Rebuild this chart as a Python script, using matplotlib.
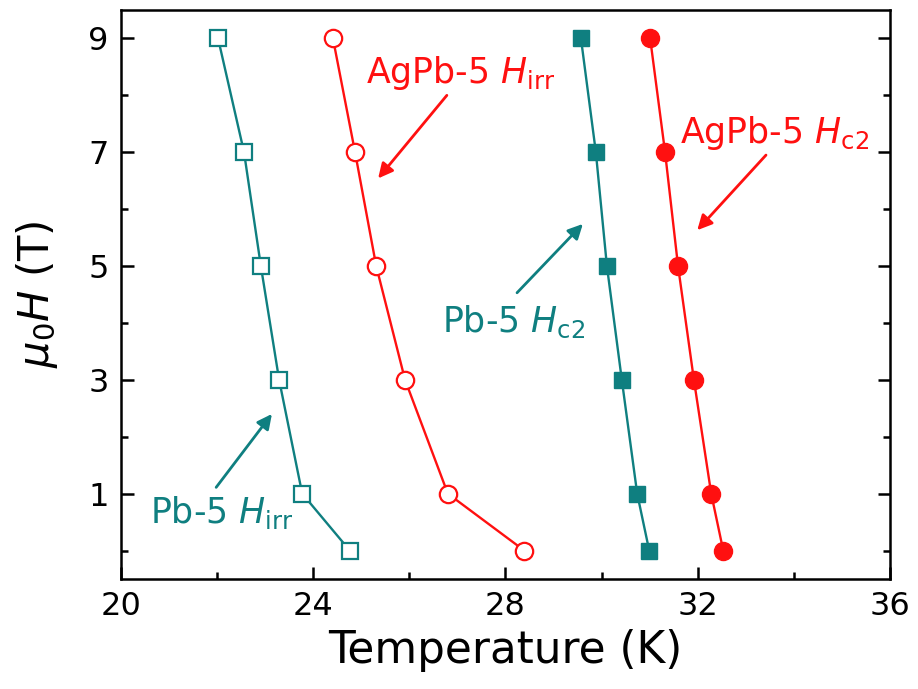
import matplotlib
matplotlib.use("Agg")
import matplotlib.pyplot as plt
from matplotlib.ticker import MultipleLocator

# Magnetic field values (T)
field = [9, 7, 5, 3, 1, 0]

# Characteristic temperatures (K)
pb5_irr = [22.02, 22.56, 22.91, 23.29, 23.77, 24.76]
agpb5_irr = [24.41, 24.87, 25.31, 25.91, 26.80, 28.39]
pb5_hc2 = [29.57, 29.88, 30.11, 30.42, 30.74, 30.99]
agpb5_hc2 = [31.01, 31.32, 31.59, 31.92, 32.28, 32.53]

x_ticks = [20, 24, 28, 32, 36]
y_ticks = [1, 3, 5, 7, 9]

teal = "#0f7f80"
red = "#ff1010"

plt.rcParams["font.family"] = ["DejaVu Sans"]
plt.rcParams["mathtext.fontset"] = "dejavusans"

fig = plt.figure(figsize=(9.18, 6.89), dpi=100)
ax = fig.add_axes([0.1318, 0.1597, 0.9695 - 0.1318, 0.9855 - 0.1597])

lw = 1.7
ax.plot(pb5_irr, field, "-s", color=teal, lw=lw, ms=11, mfc="white", mec=teal, mew=1.6, zorder=3)
ax.plot(agpb5_irr, field, "-o", color=red, lw=lw, ms=12.5, mfc="white", mec=red, mew=1.6, zorder=3)
ax.plot(pb5_hc2, field, "-s", color=teal, lw=lw, ms=11, mfc=teal, mec=teal, zorder=3)
ax.plot(agpb5_hc2, field, "-o", color=red, lw=lw, ms=13, mfc=red, mec=red, zorder=3)

ax.set_xlim(20, 36)
ax.set_ylim(-0.5, 9.5)
ax.set_xticks(x_ticks)
ax.set_yticks(y_ticks)
ax.xaxis.set_minor_locator(MultipleLocator(2))
ax.yaxis.set_minor_locator(MultipleLocator(1))

for s in ax.spines.values():
    s.set_linewidth(1.8)

ax.tick_params(axis="both", which="major", direction="in", length=9, width=1.8,
               labelsize=23, pad=9)
ax.tick_params(axis="both", which="minor", direction="in", length=5, width=1.8)
ax.tick_params(axis="y", which="both", right=True)

ax.set_xlabel("Temperature (K)", fontsize=31.5, labelpad=5)
ax.set_ylabel(r"$\mu_0H$ (T)", fontsize=30, labelpad=20)

# Series labels with pointer arrows
tkw = dict(fontsize=25, ha="center", va="baseline")
akw = dict(arrowstyle="-|>", lw=2.0, mutation_scale=22, shrinkA=0, shrinkB=0)

ax.text(27.07, 8.21, r"AgPb-5 $H_{\mathrm{irr}}$", color=red, **tkw)
ax.annotate("", xy=(25.35, 6.54), xytext=(26.78, 8.0),
            arrowprops=dict(color=red, **akw))

ax.text(33.59, 7.16, r"AgPb-5 $H_{\mathrm{c2}}$", color=red, **tkw)
ax.annotate("", xy=(31.99, 5.63), xytext=(33.42, 6.95),
            arrowprops=dict(color=red, **akw))

ax.text(28.16, 3.84, r"Pb-5 $H_{\mathrm{c2}}$", color=teal, **tkw)
ax.annotate("", xy=(29.61, 5.74), xytext=(28.24, 4.53),
            arrowprops=dict(color=teal, **akw))

ax.text(22.10, 0.49, r"Pb-5 $H_{\mathrm{irr}}$", color=teal, **tkw)
ax.annotate("", xy=(23.14, 2.40), xytext=(21.98, 1.11),
            arrowprops=dict(color=teal, **akw))

fig.savefig("out.png", dpi=100)
